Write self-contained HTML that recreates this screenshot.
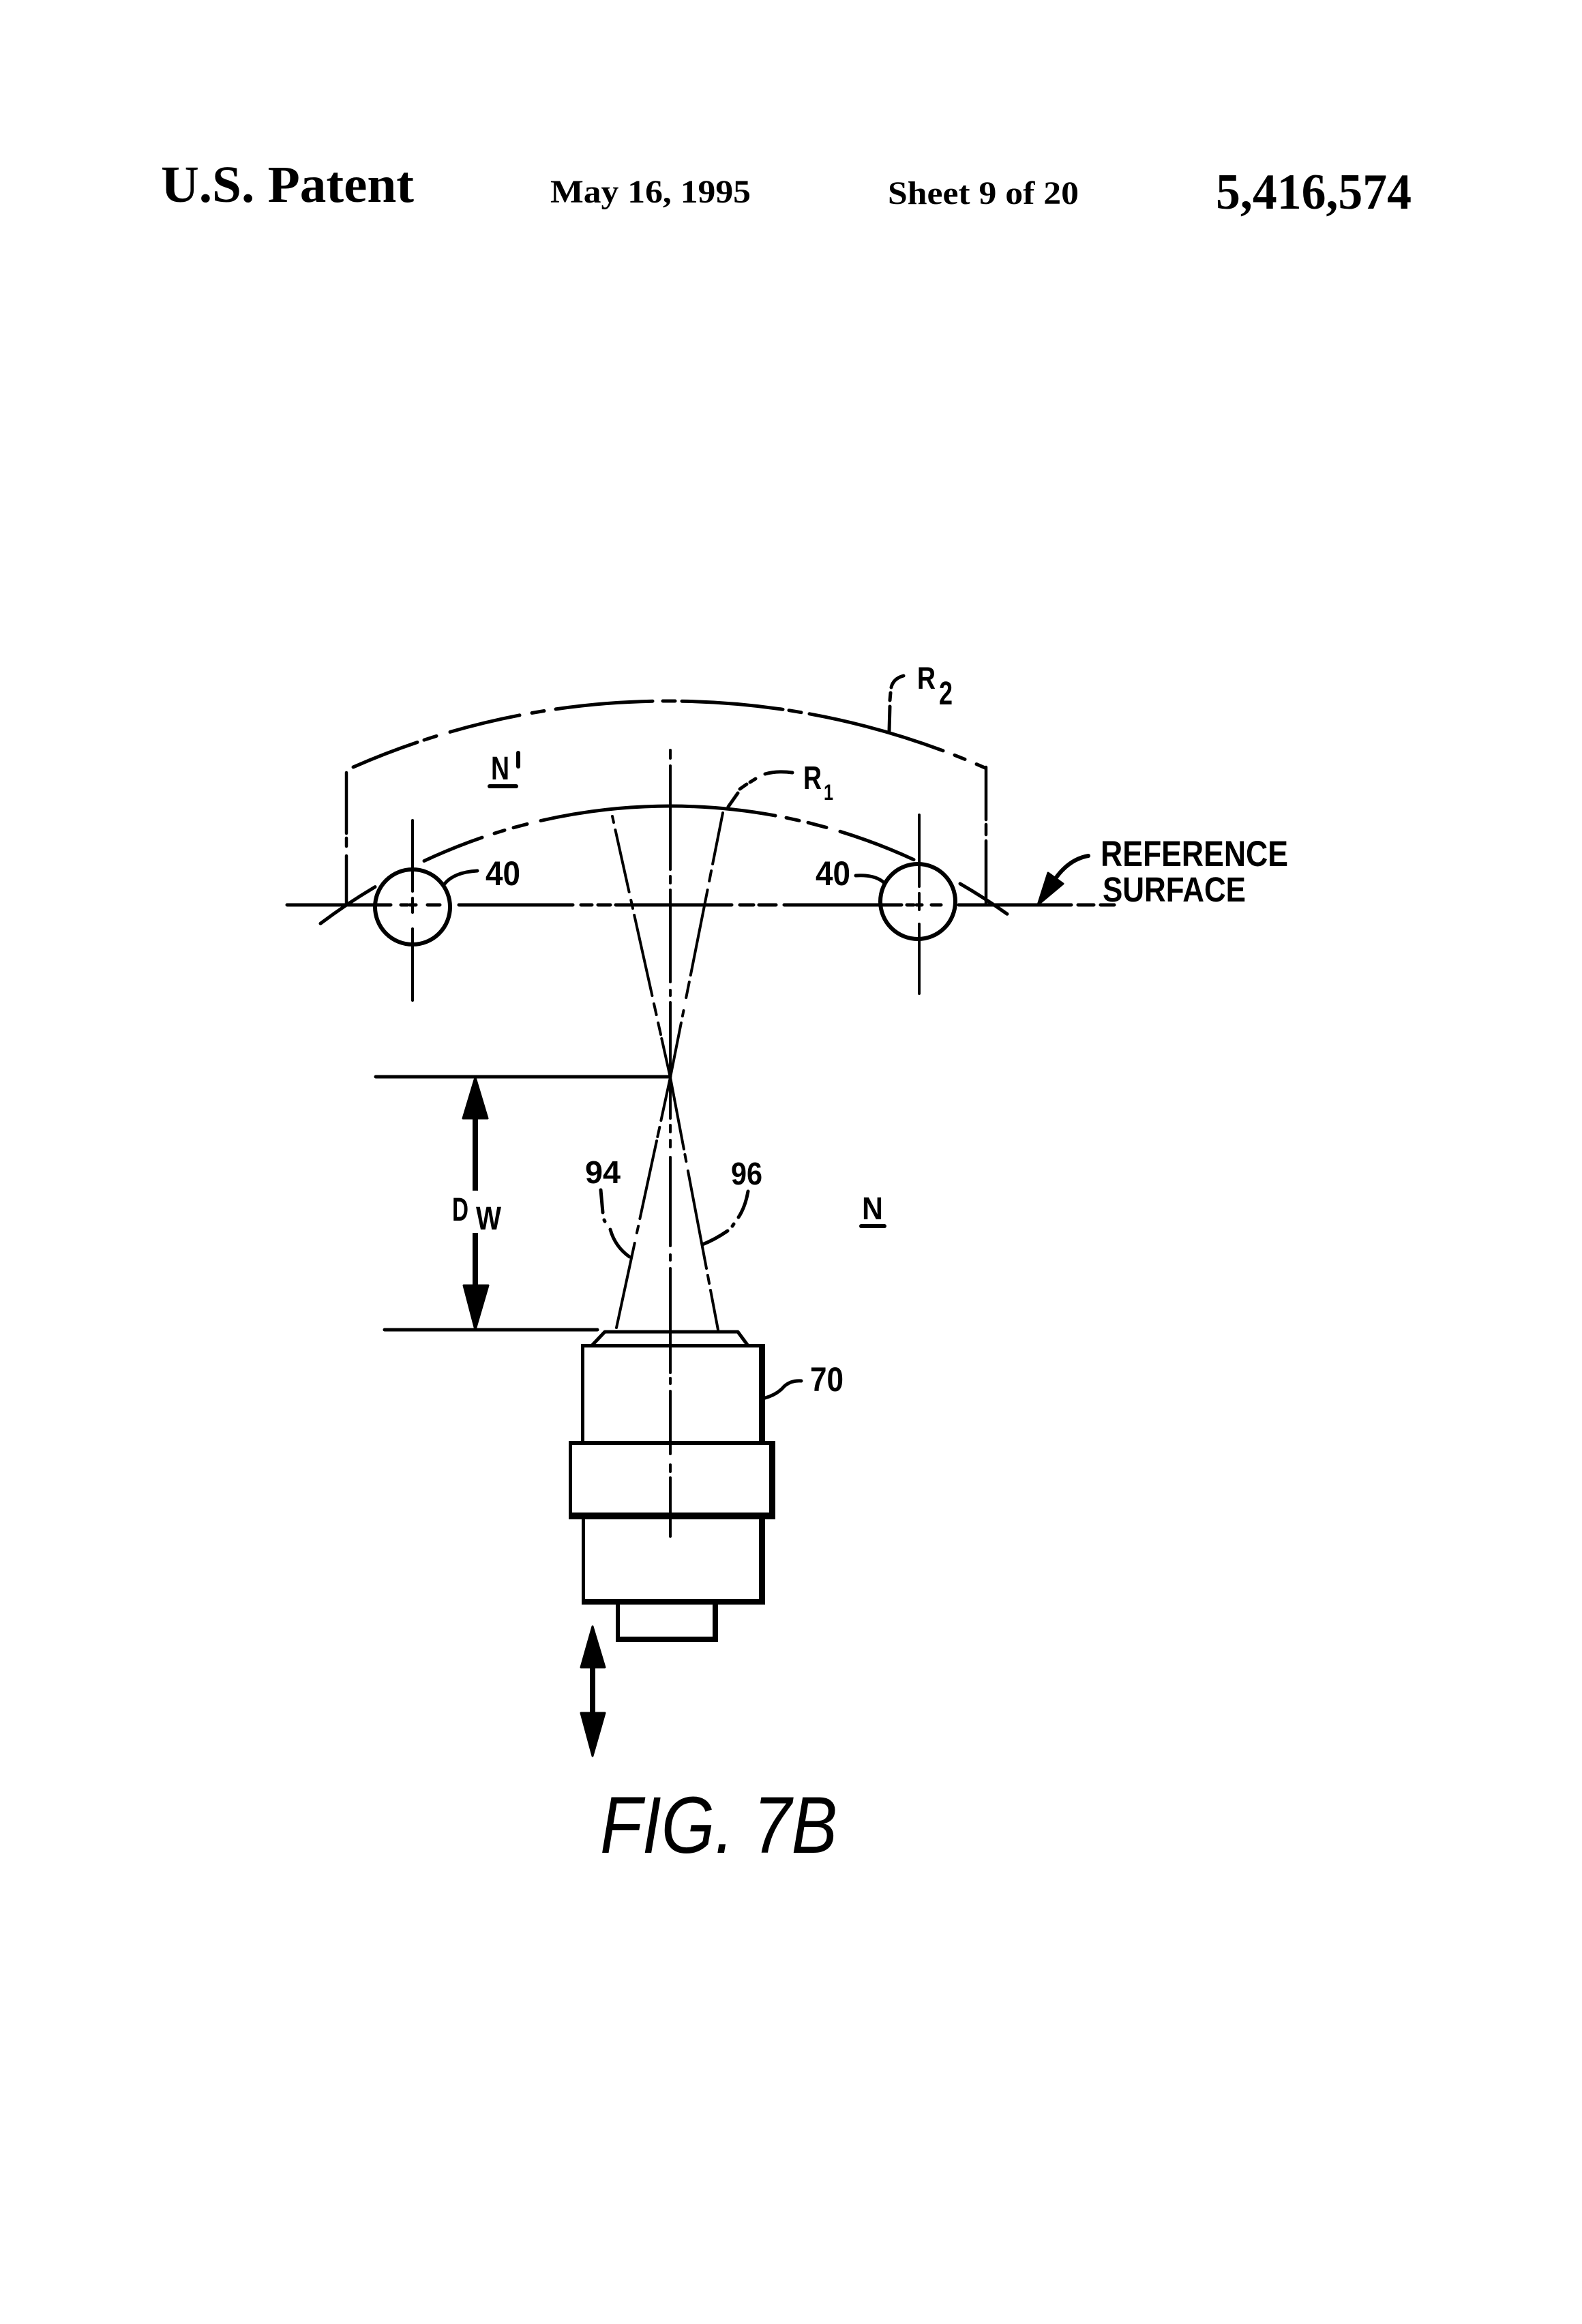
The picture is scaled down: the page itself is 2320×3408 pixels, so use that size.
<!DOCTYPE html>
<html><head><meta charset="utf-8"><style>
html,body{margin:0;padding:0;background:#fff;}
body{width:2320px;height:3408px;position:relative;overflow:hidden;}
svg{position:absolute;left:0;top:0;}
.l{font-family:"Liberation Sans",sans-serif;font-weight:bold;fill:#000;}
.h{font-family:"Liberation Serif",serif;font-weight:bold;fill:#000;}
</style></head><body>
<svg width="2320" height="3408" viewBox="0 0 2320 3408" xmlns="http://www.w3.org/2000/svg">
<rect width="2320" height="3408" fill="#fff"/>

<!-- Header -->
<text class="h" x="236" y="296" font-size="76" textLength="371" lengthAdjust="spacingAndGlyphs">U.S. Patent</text>
<text class="h" x="807" y="297" font-size="48" textLength="294" lengthAdjust="spacingAndGlyphs">May 16, 1995</text>
<text class="h" x="1302" y="299" font-size="48" textLength="280" lengthAdjust="spacingAndGlyphs">Sheet 9 of 20</text>
<text class="h" x="1783" y="306" font-size="74" textLength="287" lengthAdjust="spacingAndGlyphs">5,416,574</text>

<g fill="none" stroke="#000" stroke-linecap="round">
<!-- R2 arc -->
<g stroke-width="5">
<path d="M518 1124.9 A1150 1150 0 0 1 612 1088.5"/>
<path d="M622 1085.1 L640 1079.4"/>
<path d="M660 1073.4 A1150 1150 0 0 1 762 1048.8"/>
<path d="M780 1045.5 L798 1042.5"/>
<path d="M815 1039.9 A1150 1150 0 0 1 957 1028.2"/>
<path d="M972 1028 L990 1028"/>
<path d="M1000 1028.2 A1150 1150 0 0 1 1148 1040.3"/>
<path d="M1157 1041.7 L1175 1044.7"/>
<path d="M1187 1046.8 A1150 1150 0 0 1 1383 1100.9"/>
<path d="M1400 1107.4 L1415 1113.4"/>
<path d="M1432 1120.6 L1445 1126.2"/>
</g>
<!-- R2 box verticals -->
<g stroke-width="4.5">
<path d="M508 1133 L508 1222 M508 1229 L508 1241 M508 1255 L508 1327"/>
<path d="M1446 1125 L1446 1202 M1446 1209 L1446 1224 M1446 1233 L1446 1327"/>
</g>
<!-- R1 arc -->
<g stroke-width="5">
<path d="M470 1354.3 A850 850 0 0 1 550 1300.6"/>
<path d="M622 1262.5 A850 850 0 0 1 707 1228.1"/>
<path d="M725 1222.1 L740 1217.5"/>
<path d="M753 1213.7 L773 1208.4"/>
<path d="M793 1203.5 A850 850 0 0 1 1137 1196.1"/>
<path d="M1153 1199.2 L1172 1203.3"/>
<path d="M1185 1206.3 L1212 1213.4"/>
<path d="M1232 1219.3 A850 850 0 0 1 1340 1260.6"/>
<path d="M1408 1295.9 A850 850 0 0 1 1477 1340.3"/>
</g>
</g>

<!-- circles -->
<circle cx="605" cy="1330" r="55" fill="#fff" stroke="#000" stroke-width="6"/>
<circle cx="1346" cy="1322" r="55" fill="#fff" stroke="#000" stroke-width="6"/>

<g fill="none" stroke="#000" stroke-linecap="round">
<!-- reference line -->
<g stroke-width="5">
<path d="M421 1327 L573 1327 M588 1327 L598 1327 M601 1327 L610 1327 M627 1327 L645 1327"/>
<path d="M673 1327 L840 1327 M852 1327 L868 1327 M877 1327 L895 1327"/>
<path d="M903 1327 L1073 1327 M1085 1327 L1105 1327 M1113 1327 L1138 1327"/>
<path d="M1150 1327 L1322 1327 M1330 1327 L1340 1327 M1344 1327 L1352 1327 M1366 1327 L1380 1327"/>
<path d="M1406 1327 L1571 1327 M1581 1327 L1604 1327 M1614 1327 L1634 1327"/>
</g>
<!-- circle center verticals -->
<g stroke-width="4">
<path d="M605 1203 L605 1307 M605 1317 L605 1338 M605 1362 L605 1467"/>
<path d="M1348 1195 L1348 1300 M1348 1310 L1348 1334 M1348 1355 L1348 1457"/>
</g>
<!-- optical axis -->
<path stroke-width="4" d="M983 1100 L983 1112 M983 1123 L983 1275 M983 1285 L983 1295 M983 1305 L983 1440 M983 1452 L983 1460 M983 1470 L983 1640 M983 1650 L983 1660 M983 1672 L983 1682 M983 1697 L983 1827 M983 1840 L983 1848 M983 1860 L983 2013 M983 2021 L983 2029 M983 2040 L983 2132 M983 2148 L983 2158 M983 2167 L983 2253"/>
<!-- beam line A -->
<path stroke-width="4" d="M898 1197 L900 1206 M902.4 1217 L922.6 1308 M925.3 1320 L928 1332 M930.2 1342 L956.4 1460 M959 1472 L962.6 1488 M965.2 1500 L969 1517 M970.3 1523 L983 1580"/>
<path stroke-width="4" d="M983 1580 L1002.9 1685 M1004.4 1693 L1006.3 1703 M1008.9 1717 L1036 1860 M1037.9 1870 L1040.1 1882 M1042 1892 L1053 1950"/>
<!-- beam line B -->
<path stroke-width="4" d="M1060 1192 L1045.1 1267 M1043.1 1277 L1040.2 1292 M1037.6 1305 L1012.8 1430 M1010.8 1440 L1006.2 1463 M1002.5 1482 L1000.9 1490 M998.9 1500 L983 1580"/>
<path stroke-width="4" d="M983 1580 L969.4 1643 M967.3 1653 L964.3 1667 M963 1673 L938.4 1787 M936.1 1798 L933.9 1808 M930.7 1823 L904 1947"/>

<!-- Dw horizontals -->
<path stroke-width="5" d="M551 1579 L983 1579"/>
<path stroke-width="5" d="M564 1950 L876 1950"/>
<!-- Dw shafts -->
<path stroke-width="8" stroke-linecap="butt" d="M697 1630 L697 1746 M697 1808 L697 1895"/>
<!-- double arrow shaft -->
<path stroke-width="8" stroke-linecap="butt" d="M869 2435 L869 2522"/>

<!-- leaders -->
<path stroke-width="5" d="M652 1296 Q666 1279 700 1277"/>
<path stroke-width="5" d="M1255 1284 Q1285 1282 1298 1296"/>
<path stroke-width="5" d="M1304 1072 L1305 1036 M1305 1027 L1306 1016 M1307 1008 Q1310 995 1325 991"/>
<path stroke-width="5" d="M1068 1183 L1082 1163 M1085 1157 L1095 1150 M1100 1147 L1108 1142 M1122 1135 Q1140 1130 1162 1133"/>
<path stroke-width="5" d="M1122 2050 Q1140 2045 1150 2033 Q1160 2024 1175 2025"/>
<path stroke-width="5" d="M881 1745 L884 1778 M886 1789 L887 1791 M895 1803 Q902 1828 923 1843"/>
<path stroke-width="5" d="M1097 1747 Q1093 1770 1083 1785 M1076 1795 L1074 1798 M1067 1805 Q1048 1818 1030 1825"/>
<path stroke-width="6" d="M1548 1288 Q1568 1260 1596 1255"/>

<!-- N' prime and underlines -->
<path stroke-width="6" d="M760 1104 L760 1124"/>
<path stroke-width="6" d="M718 1153 L757 1153"/>
<path stroke-width="6" d="M1263 1798 L1297 1798"/>

<!-- lens cap trapezoid -->
<path stroke-width="5" stroke-linejoin="round" d="M869 1972 L887 1953 L1082 1953 L1096 1972"/>
</g>

<!-- arrowheads -->
<g fill="#000" stroke="#000" stroke-width="3" stroke-linejoin="round">
<path d="M697 1580 L715 1640 L679 1640 Z"/>
<path d="M697 1950 L716 1885 L680 1885 Z"/>
<path d="M869 2385 L887 2445 L852 2445 Z"/>
<path d="M869 2575 L887 2512 L852 2512 Z"/>
<path d="M1522 1327 L1537 1280 L1559 1296 Z"/>
</g>

<!-- lens body edges -->
<g fill="#000">
<!-- body 1 -->
<rect x="852" y="1971" width="270" height="5"/>
<rect x="852" y="1971" width="5" height="145"/>
<rect x="1113" y="1971" width="9" height="145"/>
<!-- ring -->
<rect x="834" y="2113" width="303" height="6"/>
<rect x="834" y="2113" width="5" height="115"/>
<rect x="1128" y="2113" width="9" height="115"/>
<rect x="834" y="2218" width="303" height="10"/>
<!-- body 2 -->
<rect x="853" y="2228" width="5" height="125"/>
<rect x="1113" y="2228" width="9" height="125"/>
<rect x="853" y="2345" width="269" height="8"/>
<!-- small rect -->
<rect x="903" y="2353" width="6" height="55"/>
<rect x="1045" y="2353" width="8" height="55"/>
<rect x="903" y="2400" width="150" height="8"/>
</g>

<!-- labels -->
<text class="l" x="1345" y="1010" font-size="45" textLength="27" lengthAdjust="spacingAndGlyphs">R</text>
<text class="l" x="1377" y="1033" font-size="48" textLength="20" lengthAdjust="spacingAndGlyphs">2</text>
<text class="l" x="720" y="1143" font-size="48" textLength="27" lengthAdjust="spacingAndGlyphs">N</text>
<text class="l" x="1178" y="1157" font-size="48" textLength="27" lengthAdjust="spacingAndGlyphs">R</text>
<text class="l" x="1208" y="1173" font-size="32" textLength="14" lengthAdjust="spacingAndGlyphs">1</text>
<text class="l" x="712" y="1298" font-size="50" textLength="51" lengthAdjust="spacingAndGlyphs">40</text>
<text class="l" x="1196" y="1298" font-size="50" textLength="51" lengthAdjust="spacingAndGlyphs">40</text>
<text class="l" x="1614" y="1270" font-size="53" textLength="275" lengthAdjust="spacingAndGlyphs">REFERENCE</text>
<text class="l" x="1617" y="1322" font-size="51" textLength="210" lengthAdjust="spacingAndGlyphs">SURFACE</text>
<text class="l" x="858" y="1735" font-size="46" textLength="52" lengthAdjust="spacingAndGlyphs">94</text>
<text class="l" x="1072" y="1737" font-size="46" textLength="46" lengthAdjust="spacingAndGlyphs">96</text>
<text class="l" x="663" y="1790" font-size="48" textLength="24" lengthAdjust="spacingAndGlyphs">D</text>
<text class="l" x="698" y="1803" font-size="48" textLength="37" lengthAdjust="spacingAndGlyphs">W</text>
<text class="l" x="1264" y="1788" font-size="46" textLength="31" lengthAdjust="spacingAndGlyphs">N</text>
<text class="l" x="1188" y="2040" font-size="50" textLength="49" lengthAdjust="spacingAndGlyphs">70</text>
<text x="880" y="2717" font-family="Liberation Sans, sans-serif" font-style="italic" font-size="118" fill="#000" textLength="348" lengthAdjust="spacingAndGlyphs">FIG. 7B</text>
</svg>
</body></html>
